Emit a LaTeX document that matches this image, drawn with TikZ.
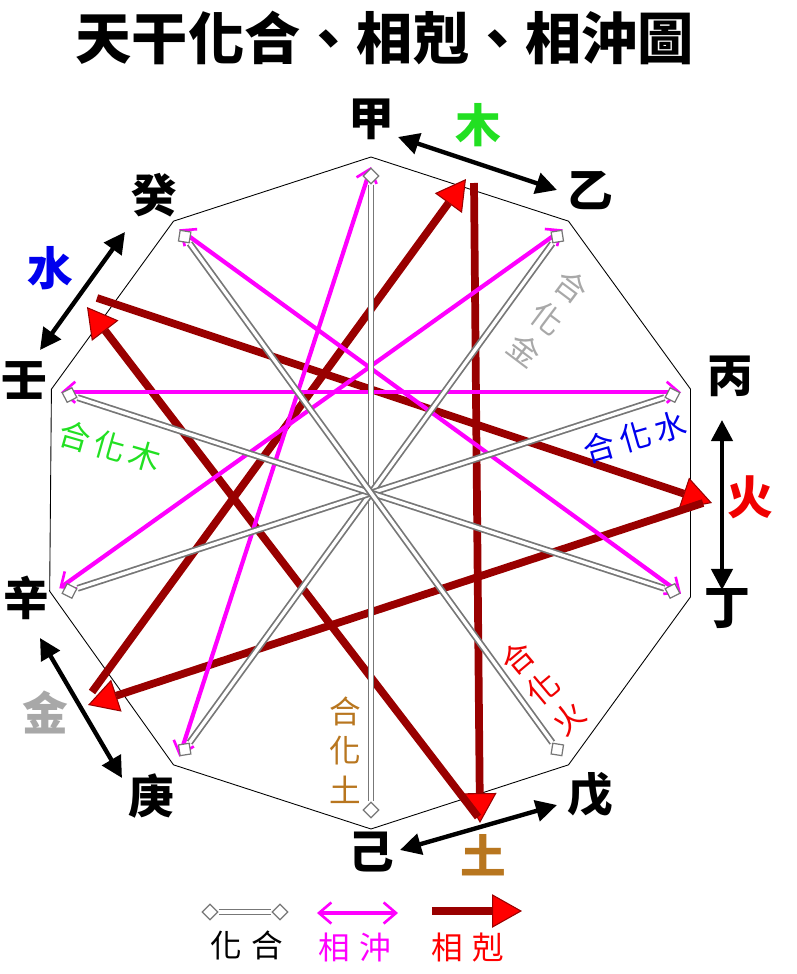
\documentclass[tikz,border=0pt]{standalone}
\usepackage{fontspec}
\usepackage{tikz}
\usetikzlibrary{arrows.meta,calc,shapes.geometric}
\newfontfamily\cjk{Noto Sans CJK TC}
\definecolor{kered}{HTML}{990000}
\definecolor{kehead}{HTML}{FF0000}
\definecolor{chongpink}{HTML}{FF00FF}
\definecolor{hegray}{HTML}{777777}
\definecolor{mugreen}{HTML}{22E022}
\definecolor{tubrown}{HTML}{B8761F}
\definecolor{jingray}{HTML}{A8A8A8}
\definecolor{shuiblue}{HTML}{0000EE}
\definecolor{huored}{HTML}{F00000}

\tikzset{
  gan/.style={font=\cjk\bfseries\fontsize{26}{26}\selectfont,inner sep=0pt},
  hua/.style={font=\cjk\fontsize{18}{22.5}\selectfont,inner sep=0pt,align=center},
  dia/.style={diamond,draw=hegray,fill=white,line width=0.7pt,minimum size=9pt,inner sep=0pt},
  hehua/.style={draw=hegray,double=white,line width=1pt,double distance=1.9pt},
  chong/.style={draw=chongpink,line width=2.4pt,
    {Straight Barb[length=7pt,width=12pt,line width=1.5pt]}-{Straight Barb[length=7pt,width=12pt,line width=1.5pt]}},
  ke/.style={draw=kered,line width=4.4pt,-{Triangle[length=17pt,width=19pt,fill=kehead,line width=0.6pt]}},
  pair/.style={draw=black,line width=2.5pt,{Triangle[length=12pt,width=12pt]}-{Triangle[length=12pt,width=12pt]}}
}

\begin{document}
\begin{tikzpicture}[x=0.02cm,y=0.02cm]
  \useasboundingbox (-371,-481) rectangle (425,493);
  \node[font=\cjk\bfseries\fontsize{32}{32}\selectfont] (title) at (14,455) {天干化合、相剋、相沖圖};

  % stems on the decagon
  \foreach \n/\ang/\rad/\lab in {jia/90/374/甲, yi/54/374/乙, bing/18/378/丙, ding/-18/375/丁, wu/-54/373/戊,
                                ji/-90/359/己, geng/-126/374/庚, xin/-163/360/辛, ren/162/364/壬, gui/126/368/癸}{
    \coordinate (v\n) at (\ang:336);
    \coordinate (m\n) at (\ang:326);
    \node[gan] (l\n) at (\ang:\rad) {\lab};
  }
  \draw[line width=0.5pt] (vjia) -- (vyi) -- (vbing) -- (vding) -- (vwu) -- (vji) -- (vgeng) -- (vxin) -- (vren) -- (vgui) -- cycle;

  % xiang ke
  \coordinate (muTail) at (103,310);    \coordinate (muTip) at (95,314);
  \coordinate (tuTail) at (107,-324);   \coordinate (tuTip) at (109,-330);
  \coordinate (shuiTail) at (-274,195); \coordinate (shuiTip) at (-284,186);
  \coordinate (huoTail) at (332,-10);   \coordinate (huoTip) at (341,-10);
  \coordinate (jinTail) at (-279,-199); \coordinate (jinTip) at (-283,-212);
  \draw[ke] (muTail) -- (tuTip);
  \draw[ke] (tuTail) -- (shuiTip);
  \draw[ke] (shuiTail) -- (huoTip);
  \draw[ke] (huoTail) -- (jinTip);
  \draw[ke] (jinTail) -- (muTip);

  % xiang chong
  \draw[chong] (mjia) -- (mgeng);
  \draw[chong] (myi) -- (mxin);
  \draw[chong] (mbing) -- (mren);
  \draw[chong] (mding) -- (mgui);

  % hua he
  \foreach \n/\ang in {jia/90, yi/54, bing/18, ding/-18, wu/-54, ji/-90, geng/-126, xin/-162, ren/162, gui/126}
    \node[dia,rotate=\ang] (d\n) at (\ang:317) {};
  \draw[hehua] (djia) -- (dji);
  \draw[hehua] (dyi) -- (dgeng);
  \draw[hehua] (dbing) -- (dxin);
  \draw[hehua] (dding) -- (dren);
  \draw[hehua] (dwu) -- (dgui);

  \node[hua,text=jingray,rotate=-37] (hjin) at (177,175) {合\\化\\金};
  \node[hua,text=shuiblue,rotate=16] (hshui) at (264,56) {合\,化\,水};
  \node[hua,text=mugreen,rotate=-16] (hmu) at (-261,47) {合\,化\,木};
  \node[hua,text=huored,rotate=40] (hhuo) at (172,-195) {合\\化\\火};
  \node[hua,text=tubrown] (htu) at (-26,-257) {合\\化\\土};

  % elements
  \coordinate (muA) at (27,356);     \coordinate (muB) at (186,303);
  \coordinate (huoA) at (351,73);    \coordinate (huoB) at (351,-97);
  \coordinate (tuA) at (186,-312);   \coordinate (tuB) at (29,-357);
  \coordinate (jinA) at (-249,-285); \coordinate (jinB) at (-331,-145);
  \coordinate (shuiA) at (-331,143); \coordinate (shuiB) at (-246,261);
  \draw[pair] (muA) -- (muB);
  \draw[pair] (huoA) -- (huoB);
  \draw[pair] (tuA) -- (tuB);
  \draw[pair] (jinA) -- (jinB);
  \draw[pair] (shuiA) -- (shuiB);
  \node[gan,text=mugreen] (mu) at (107,368) {木};
  \node[gan,text=huored] (huo) at (379,-4) {火};
  \node[gan,text=tubrown] (tu) at (112,-362) {土};
  \node[gan,text=jingray] (jin) at (-326,-219) {金};
  \node[gan,text=shuiblue] (shui) at (-321,225) {水};

  % legend
  \node[dia] (keyA) at (-161,-419) {};
  \node[dia] (keyB) at (-91,-419) {};
  \draw[hehua] (keyA) -- (keyB);
  \node[hua] (keyHe) at (-124,-452) {化\hspace{5pt}合};
  \coordinate (chongA) at (-54,-420); \coordinate (chongB) at (27,-420);
  \draw[chong] (chongA) -- (chongB);
  \node[hua,text=chongpink] (keyChong) at (-16,-454) {相\hspace{5pt}沖};
  \coordinate (keA) at (61,-418); \coordinate (keB) at (151,-418);
  \draw[ke] (keA) -- (keB);
  \node[hua,text=kehead] (keyKe) at (97,-455) {相\hspace{5pt}剋};
\end{tikzpicture}
\end{document}
